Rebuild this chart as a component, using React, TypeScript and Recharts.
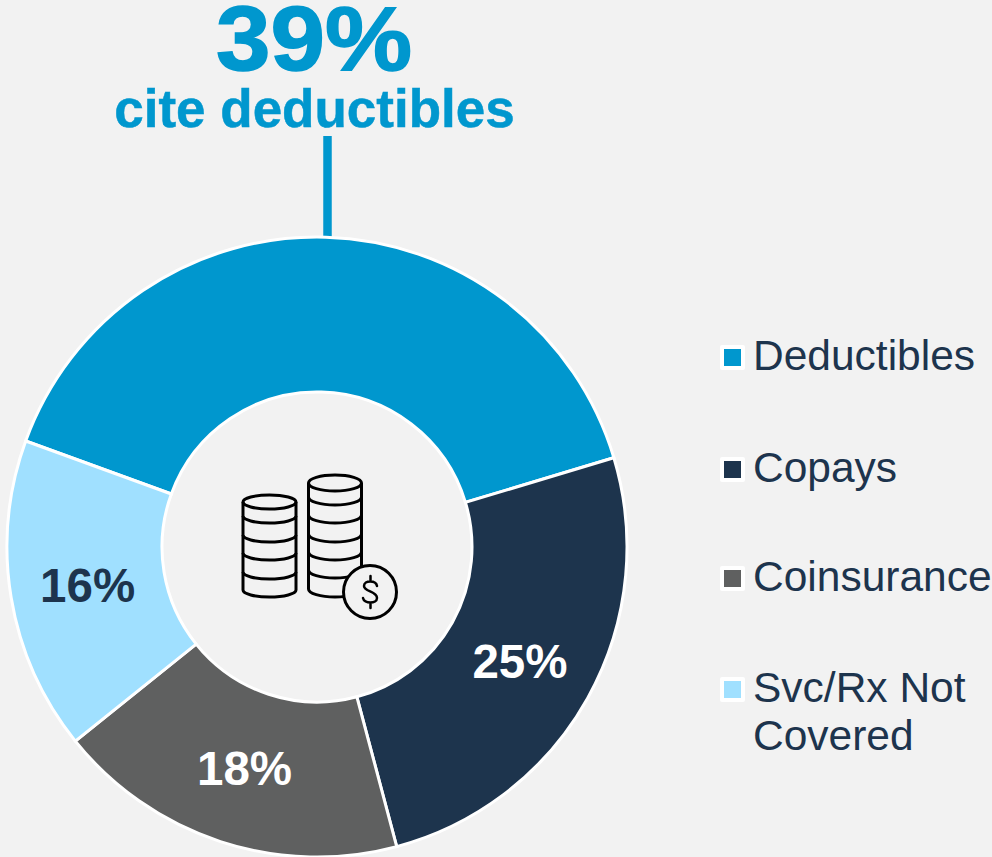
import React from "react";
import { PieChart, Pie, Cell, Legend } from "recharts";

const categories = ["Deductibles", "Copays", "Coinsurance", "Svc/Rx Not Covered"];
const values = [39, 25, 18, 16];
const colors = ["#0097CE", "#1D344D", "#5F6060", "#A0E0FF"];
const labelColors = ["#FFFFFF", "#FFFFFF", "#FFFFFF", "#1D344D"];
const rows = categories.map((name, i) => ({ name, value: values[i] }));

const FONT = '"Liberation Sans", Arial, sans-serif';
const BG = "#F2F2F2";
const CX = 317;
const CY = 547;
const RAD = Math.PI / 180;

function renderLabel(p: any) {
  if (p.index === 0) return null;
  const r = (p.innerRadius + p.outerRadius) / 2;
  const x = p.cx + r * Math.cos(-p.midAngle * RAD);
  const y = p.cy + r * Math.sin(-p.midAngle * RAD) + 1;
  return (
    <text x={x} y={y} textAnchor="middle" dominantBaseline="central" fontFamily={FONT} fontWeight={700} fontSize={47.5} fill={labelColors[p.index]}>
      {values[p.index]}%
    </text>
  );
}

function Stack({ cx, top, bands, rx, ry }: { cx: number; top: number; bands: number[]; rx: number; ry: number }) {
  const last = bands[bands.length - 1];
  const s = { fill: "none", stroke: "#000", strokeWidth: 3 };
  return (
    <g>
      <ellipse cx={cx} cy={top} rx={rx} ry={ry} {...s} />
      <line x1={cx - rx} x2={cx - rx} y1={top} y2={last - ry} {...s} />
      <line x1={cx + rx} x2={cx + rx} y1={top} y2={last - ry} {...s} />
      {bands.map((b) => (
        <path key={b} d={`M${cx - rx} ${b - ry} A${rx} ${ry} 0 0 0 ${cx + rx} ${b - ry}`} {...s} />
      ))}
    </g>
  );
}

function CoinIcon() {
  return (
    <g>
      <Stack cx={269.5} top={502} rx={26.5} ry={7} bands={[523, 542, 560, 579, 597]} />
      <Stack cx={335} top={483} rx={26.5} ry={8} bands={[505, 523, 542, 560, 578, 597]} />
      <circle cx={370} cy={592} r={26.5} fill={BG} stroke="#000" strokeWidth={3} />
      <path
        d="M377 586 C376 580 364 580 364 586 C364 592 377 591 377 598 C377 604 364 604 363 598 M370.5 576 L370.5 580 M370.5 604 L370.5 608"
        fill="none"
        stroke="#000"
        strokeWidth={2.5}
        strokeLinecap="round"
      />
    </g>
  );
}

function LegendBox() {
  const tops = [332, 444, 553, 664];
  return (
    <div style={{ position: "absolute", left: 0, top: 0 }}>
      {categories.map((c, i) => (
        <div key={c} style={{ position: "absolute", left: 720, top: tops[i], width: 272, display: "flex", alignItems: "flex-start" }}>
          <span
            style={{
              boxSizing: "border-box",
              width: 25,
              height: 25,
              marginTop: 13,
              background: colors[i],
              border: "4px solid #FFFFFF",
              borderRadius: 2,
              flex: "none",
            }}
          />
          <span style={{ marginLeft: 8, fontFamily: FONT, fontSize: 42.5, lineHeight: "48px", color: "#1D344D", whiteSpace: "pre-line" }}>
            {c === "Svc/Rx Not Covered" ? "Svc/Rx Not\nCovered" : c}
          </span>
        </div>
      ))}
    </div>
  );
}

export default function App() {
  return (
    <div style={{ position: "absolute", left: 0, top: 0, width: 992, height: 857, background: BG, overflow: "hidden" }}>
      <PieChart width={992} height={857} margin={{ top: 0, right: 0, bottom: 0, left: 0 }}>
        <Pie
          data={rows}
          dataKey="value"
          nameKey="name"
          cx={CX}
          cy={CY}
          innerRadius={155}
          outerRadius={310}
          startAngle={160}
          endAngle={-200}
          stroke="#FFFFFF"
          strokeWidth={3}
          label={renderLabel}
          labelLine={false}
          isAnimationActive={false}
        >
          {rows.map((r, i) => (
            <Cell key={r.name} fill={colors[i]} />
          ))}
        </Pie>
        <Legend content={<LegendBox />} wrapperStyle={{ left: 0, top: 0, width: 992, height: 857 }} />
        <text x={314} y={70} textAnchor="middle" fontFamily={FONT} fontWeight={700} fontSize={90} textLength={196} lengthAdjust="spacingAndGlyphs" stroke={colors[0]} strokeWidth={1.5} fill={colors[0]}>39%</text>
        <text x={314.5} y={127} textAnchor="middle" fontFamily={FONT} fontWeight={700} fontSize={53} fill={colors[0]} stroke={colors[0]} strokeWidth={0.5}>cite deductibles</text>
        <line x1={327.5} x2={327.5} y1={136} y2={237} stroke={colors[0]} strokeWidth={8.5} />
        <CoinIcon />
      </PieChart>
    </div>
  );
}
